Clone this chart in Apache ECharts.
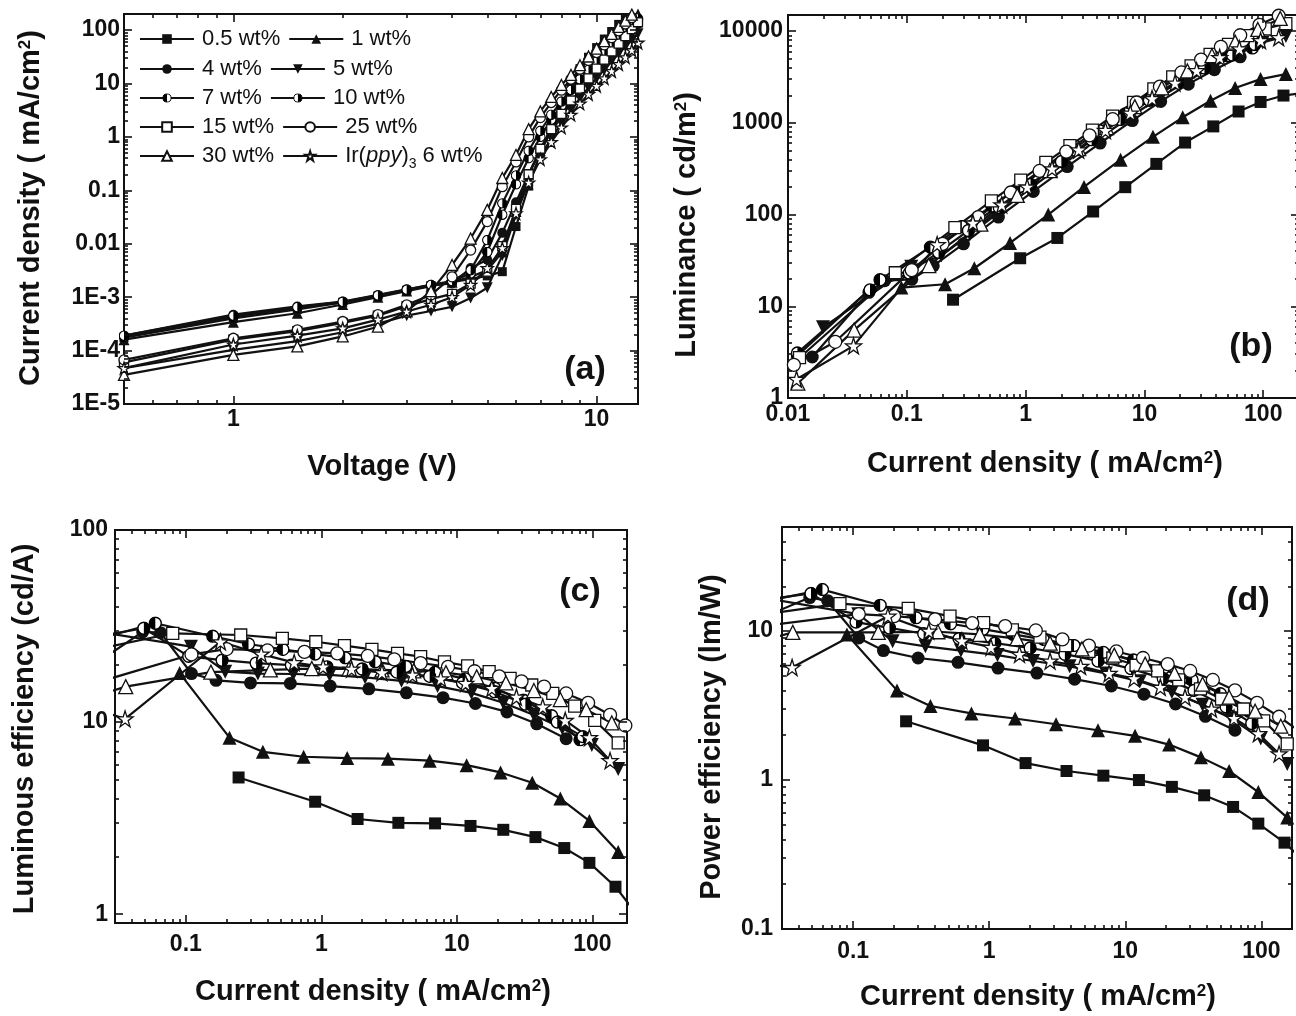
<!DOCTYPE html>
<html><head><meta charset="utf-8">
<script src="https://cdn.jsdelivr.net/npm/echarts@6/dist/echarts.min.js"></script>
<style>html,body{margin:0;padding:0;background:#fff}#chart{width:1296px;height:1016px}</style>
</head><body><div id="chart"></div>
<script>
// ---------------- DATA ----------------
const seriesNames = ['0.5 wt%','1 wt%','4 wt%','5 wt%','7 wt%','10 wt%','15 wt%','25 wt%','30 wt%','Ir(ppy)3 6 wt%'];

// Panel (a): current density (mA/cm2) vs voltage (V)
const voltage = [0.5,1,1.5,2,2.5,3,3.5,4,4.5,5,5.5,6,6.5,7,7.5,8,8.5,9,9.5,10,10.5,11,11.5,12,12.5,13];
const jv05 = [1.75e-4,4.0e-4,5.9e-4,8.0e-4,1.05e-3,1.35e-3,1.65e-3,1.9e-3,2.2e-3,2.5e-3,3.0e-3,0.021,0.12,0.5,1.5,4,9.5,19,31,47,68,94,128,170,225];
const jv1  = [1.6e-4,3.4e-4,5.0e-4,7.3e-4,1.0e-3,1.3e-3,1.6e-3,1.9e-3,2.4e-3,3.2e-3,7e-3,0.04,0.2,0.55,1.3,2.8,5.4,9.5,16,25,38,56,80,110,150,200];
const jv4  = [1.9e-4,4.7e-4,6.7e-4,8.3e-4,1.1e-3,1.4e-3,1.7e-3,1.8e-3,3.5e-3,5e-3,0.016,0.06,0.2,0.55,1.25,2.4,4.3,7.2,11.5,17.5,26,37,52,72,98,130];
const jv5  = [4.7e-5,1.03e-4,1.5e-4,2.2e-4,3.2e-4,4.5e-4,5.5e-4,6.6e-4,9.6e-4,1.5e-3,6e-3,0.035,0.15,0.42,0.95,1.8,3.2,5.3,8.3,12.5,18,26,36,49,65,85];
const jv7  = [1.8e-4,4.3e-4,6.3e-4,8.0e-4,1.05e-3,1.35e-3,1.65e-3,1.95e-3,2.8e-3,7e-3,0.035,0.13,0.4,1.0,2.1,3.8,6.4,10.2,15.5,23,33,46,63,85,113,150];
const jv10 = [1.9e-4,4.5e-4,6.5e-4,8.2e-4,1.08e-3,1.38e-3,1.7e-3,2.0e-3,3.2e-3,0.0117,0.057,0.19,0.55,1.3,2.6,4.6,7.6,12,18,26,37,51,70,94,125,165];
const jv15 = [6.0e-5,1.6e-4,2.3e-4,3.3e-4,4.5e-4,6.8e-4,9.2e-4,1.15e-3,1.8e-3,3e-3,9e-3,0.045,0.2,0.6,1.4,2.7,4.8,8,12.5,19,28,40,56,77,104,140];
const jv25 = [6.7e-5,1.7e-4,2.45e-4,3.5e-4,4.7e-4,7.2e-4,1.1e-3,2.4e-3,7.6e-3,0.026,0.117,0.34,1.0,2.3,4.4,7.5,12,18.5,27,38,53,72,97,130,170,220];
const jv30 = [3.5e-5,8.3e-5,1.2e-4,1.84e-4,2.8e-4,5.4e-4,1.3e-3,4e-3,0.0125,0.043,0.17,0.46,1.4,3.0,5.6,9.4,14.5,22,32,45,62,85,115,150,195,250];
const jvIr = [4.7e-5,1.3e-4,1.9e-4,2.6e-4,3.8e-4,5.4e-4,7.2e-4,1.0e-3,1.7e-3,3.5e-3,8.3e-3,0.037,0.14,0.38,0.8,1.5,2.6,4.2,6.3,9,12.5,17,23,31,42,58];

// Panels (b)-(d): current density (mA/cm2), luminance (cd/m2), luminous eff. (cd/A), power eff. (lm/W)
const j05  = [0.245,0.9,1.85,3.7,6.9,12.6,22,38,62,95,148,230];
const lum05= [11.8,33.4,55.6,108,199,357,610,915,1330,1690,1985,2150];
const ce05 = [5.15,3.85,3.13,2.99,2.97,2.88,2.75,2.52,2.21,1.85,1.39,0.93];
const pe05 = [2.48,1.71,1.30,1.15,1.07,1.0,0.90,0.79,0.66,0.51,0.38,0.26];

const j1   = [0.09,0.21,0.37,0.74,1.55,3.1,6.3,11.8,21,36,58,95,155];
const lum1 = [16,17.4,26,49,100,200,397,704,1150,1740,2400,3000,3400];
const ce1  = [18,8.3,7.0,6.6,6.5,6.45,6.3,5.97,5.47,4.83,4.0,3.06,2.11];
const pe1  = [9.5,4.0,3.14,2.8,2.59,2.37,2.16,1.98,1.73,1.42,1.15,0.83,0.56];

const j4   = [0.016,0.048,0.065,0.11,0.167,0.3,0.59,1.16,2.24,4.24,7.9,13.7,23.4,38.8,64];
const lum4 = [2.8,14.2,19,19.7,27.6,48,94,179,334,602,1059,1713,2644,3802,5248];
const ce4  = [17.5,29.5,29.2,17.9,16.5,16,15.9,15.4,14.9,14.2,13.4,12.5,11.3,9.8,8.2];
const pe4  = [11,16.8,16,9.0,7.4,6.6,6.17,5.65,5.23,4.76,4.28,3.77,3.24,2.68,2.16];

const j5   = [0.0197,0.109,0.195,0.34,0.62,1.15,2.1,3.9,7.2,12.8,22,37,60,99,155];
const lum5 = [5.9,26.9,35.7,60.9,110,202,359,640,1109,1818,2772,4033,5580,7524,8835];
const ce5  = [30,24.7,18.3,17.9,17.8,17.6,17.1,16.4,15.4,14.2,12.6,10.9,9.3,7.6,5.7];
const pe5  = [17,13,8.55,7.9,7.4,6.9,6.3,5.8,5.2,4.6,3.9,3.2,2.6,1.9,1.28];

const j7   = [0.012,0.0595,0.158,0.29,0.52,0.9,1.5,2.5,4.2,6.9,11.5,19,31,50,81];
const lum7 = [2.9,19.5,44.2,74,124,203,324,515,819,1256,1932,2850,4030,5400,6561];
const ce7  = [24,32.7,28,25.5,23.9,22.6,21.6,20.6,19.5,18.2,16.8,15.0,13.0,10.8,8.1];
const pe7  = [14,19,14.9,12.3,11.2,10.3,9.5,8.8,8.0,7.2,6.4,5.6,4.7,3.8,2.9];

const j10  = [0.012,0.049,0.105,0.185,0.33,0.6,1.1,2.0,3.6,6.3,11,19,32,55,85];
const lum10= [3.1,15.1,23.1,38.9,67,119,213,378,655,1090,1760,2736,3968,5500,7140];
const ce10 = [26,30.8,22,21,20.3,19.8,19.4,18.9,18.2,17.3,16,14.4,12.4,10,8.4];
const pe10 = [15,17.9,11.5,10.5,9.6,8.9,8.3,7.7,7.0,6.3,5.6,4.8,4.0,3.1,2.4];

const j15  = [0.0125,0.08,0.254,0.515,0.91,1.48,2.36,3.65,5.4,8.1,12,17.3,24.7,35.7,51,74,104,155];
const lum15= [2.75,23.2,72,141,238,370,564,832,1183,1669,2352,3166,4174,5569,7191,8954,10608,12090];
const ce15 = [22,29,28.4,27.3,26.2,25,23.9,22.8,21.9,20.6,19.6,18.3,16.9,15.6,14.1,12.1,10.2,7.8];
const pe15 = [12,15.3,14.2,12.6,11.4,10.2,9.1,8.0,7.3,6.6,5.9,5.4,4.7,4.1,3.5,3.0,2.5,1.75];

const j25  = [0.0112,0.025,0.11,0.2,0.4,0.75,1.31,2.2,3.45,5.4,8.6,13.5,20.5,30,44,64,93,135,175];
const lum25= [2.3,4.1,24.8,48,94,174,299,486,731,1096,1668,2484,3547,4890,6732,9024,11718,14715,16800];
const ce25 = [20.5,16.5,22.5,24,23.6,23.2,22.8,22.1,21.2,20.3,19.4,18.4,17.3,16.3,15.3,14.1,12.6,10.9,9.6];
const pe25 = [14,11,13,12.6,12,11.3,10.8,10.1,8.8,8.0,7.3,6.6,6.0,5.4,4.7,4.0,3.3,2.66,2.25];

const j30  = [0.0121,0.036,0.153,0.42,0.85,1.6,2.8,4.8,8.3,14,23,37,58,90,139];
const lum30= [1.45,5.5,27.8,78.5,162,302,524,888,1502,2408,3680,5402,7598,10440,13761];
const ce30 = [12,15.3,18.2,18.7,19,18.9,18.7,18.5,18.1,17.2,16,14.6,13.1,11.6,9.9];
const pe30 = [7.5,9.8,9.8,9.9,9.5,8.9,8.3,7.6,6.9,6.0,5.2,4.4,3.6,2.9,2.3];

const jIr  = [0.0118,0.0356,0.18,0.36,0.63,1.03,1.67,2.8,4.7,7.6,11.6,18.1,27.5,43,63,95,135];
const lumIr= [1.6,3.7,47,81,128,200,316,507,827,1277,1844,2715,3712,5160,6426,7885,8505];
const ceIr = [13.5,10.4,26.2,22.6,20.4,19.4,18.9,18.1,17.6,16.8,15.9,15,13.5,12,10.2,8.3,6.3];
const peIr = [6.5,5.7,12.6,10,8.6,7.8,7.0,6.3,5.8,5.2,4.8,4.2,3.6,3.0,2.6,2.05,1.5];

// Tick values / labels
const aXMajor = [1,10];                                  const aXLabels = ['1','10'];
const aYMajor = [1e-5,1e-4,1e-3,0.01,0.1,1,10,100];      const aYLabels = ['1E-5','1E-4','1E-3','0.01','0.1','1','10','100'];
const bXMajor = [0.01,0.1,1,10,100];                     const bXLabels = ['0.01','0.1','1','10','100'];
const bYMajor = [1,10,100,1000,10000];                   const bYLabels = ['1','10','100','1000','10000'];
const cXMajor = [0.1,1,10,100];                          const cXLabels = ['0.1','1','10','100'];
const cYMajor = [1,10,100];                              const cYLabels = ['1','10','100'];
const dXMajor = [0.1,1,10,100];                          const dXLabels = ['0.1','1','10','100'];
const dYMajor = [0.1,1,10];                              const dYLabels = ['0.1','1','10'];
const minorSteps = [2,3,4,5,6,7,8,9];

// ---------------- BUILD ----------------
const FONT = '"Liberation Sans", Arial, Helvetica, sans-serif';
const INK = '#111';
const JV  = [jv05,jv1,jv4,jv5,jv7,jv10,jv15,jv25,jv30,jvIr];
const JJ  = [j05,j1,j4,j5,j7,j10,j15,j25,j30,jIr];
const LUM = [lum05,lum1,lum4,lum5,lum7,lum10,lum15,lum25,lum30,lumIr];
const CE  = [ce05,ce1,ce4,ce5,ce7,ce10,ce15,ce25,ce30,ceIr];
const PE  = [pe05,pe1,pe4,pe5,pe7,pe10,pe15,pe25,pe30,peIr];

function halfSvg(leftFilled){
  const d = leftFilled ? 'M20 3 A17 17 0 0 0 20 37 Z' : 'M20 3 A17 17 0 0 1 20 37 Z';
  const s = '<svg xmlns="http://www.w3.org/2000/svg" width="40" height="40" viewBox="0 0 40 40">'+
    '<circle cx="20" cy="20" r="17" fill="white" stroke="black" stroke-width="4"/>'+
    '<path d="'+d+'" fill="black"/></svg>';
  return 'image://data:image/svg+xml;charset=utf-8,' + encodeURIComponent(s);
}
const STAR = 'path://M50,2 L61,36 L97,36 L68,57 L79,92 L50,71 L21,92 L32,57 L3,36 L39,36 Z';
const TRI_DOWN = 'path://M0,0 L20,0 L10,18 Z';
const SYM = [
  {s:'rect', fill:INK, k:0.9},
  {s:'triangle', fill:INK, k:1.05},
  {s:'circle', fill:INK, k:1},
  {s:TRI_DOWN, fill:INK, k:1.05},
  {s:halfSvg(true), fill:INK, k:1.05},
  {s:halfSvg(false), fill:INK, k:1.05},
  {s:'rect', fill:'#fff', k:0.9, open:true},
  {s:'circle', fill:'#fff', k:1, open:true},
  {s:'triangle', fill:'#fff', k:1.1, open:true},
  {s:STAR, fill:'#fff', k:1.2, open:true}
];

function minorValues(min, max){
  const out = [];
  for (let k = Math.floor(Math.log10(min)) - 1; k <= Math.ceil(Math.log10(max)); k++) {
    for (const m of minorSteps) {
      const v = +(m * Math.pow(10, k)).toPrecision(8);
      if (v > min * 1.0001 && v < max * 0.9999) out.push(v);
    }
  }
  return out;
}
function labelFor(v, majors, labels){
  let best = 0, d = 1e9;
  majors.forEach((m,i)=>{ const dd = Math.abs(Math.log10(v) - Math.log10(m)); if (dd < d){ d = dd; best = i; } });
  return labels[best];
}
function makeAxes(dim, gi, min, max, majors, labels, margin){
  const minors = minorValues(min, max);
  const isX = dim === 'x';
  const mk = (pos, vals, len, lab) => ({
    type:'log', logBase:10, gridIndex:gi, min:min, max:max, position:pos,
    axisLine:{show:false}, splitLine:{show:false}, minorTick:{show:false}, minorSplitLine:{show:false},
    axisTick:{show:true, inside:true, length:len, customValues:vals, lineStyle:{color:INK, width:1.6}},
    axisLabel: lab ? {show:true, customValues:majors, margin:margin, color:INK, fontSize:23, fontWeight:'bold', fontFamily:FONT,
                      formatter: v => labelFor(v, majors, labels)} : {show:false},
    silent:true, z:5
  });
  const pa = isX ? 'bottom' : 'left', pb = isX ? 'top' : 'right';
  return [mk(pa, majors, 8, true), mk(pa, minors, 4, false), mk(pb, majors, 8, false), mk(pb, minors, 4, false)];
}

const grids = [
  {left:124, top:14,  width:514, height:390},
  {left:788, top:15,  width:511, height:383},
  {left:115, top:530, width:512, height:393},
  {left:782, top:527, width:510, height:402}
].map(g => Object.assign(g, {show:true, borderColor:INK, borderWidth:2, backgroundColor:'transparent', containLabel:false, outerBoundsMode:'none'}));

const xAxes = [].concat(
  makeAxes('x',0,0.5,13,aXMajor,aXLabels,4),
  makeAxes('x',1,0.01,200,bXMajor,bXLabels,5),
  makeAxes('x',2,0.03,180,cXMajor,cXLabels,10),
  makeAxes('x',3,0.03,168,dXMajor,dXLabels,11)
);
const yAxes = [].concat(
  makeAxes('y',0,1e-5,200,aYMajor,aYLabels,4),
  makeAxes('y',1,1,15000,bYMajor,bYLabels,5),
  makeAxes('y',2,0.9,100,cYMajor,cYLabels,7),
  makeAxes('y',3,0.1,50,dYMajor,dYLabels,9)
);

function mkSeries(i, gi, xs, ys, size){
  const sy = SYM[i];
  return {
    type:'line', name:seriesNames[i], xAxisIndex:gi*4, yAxisIndex:gi*4,
    data: ys.map((y,k)=>[xs[k], y]),
    symbol: sy.s, symbolSize: Math.round(size*sy.k),
    itemStyle:{color:sy.fill, borderColor:INK, borderWidth: sy.open ? 1.3 : 0},
    lineStyle:{color:INK, width:2.2},
    emphasis:{disabled:true}, animation:false, clip:true, z:3
  };
}
const series = [];
seriesNames.forEach((n,i)=>series.push(mkSeries(i,0,voltage,JV[i],10)));
seriesNames.forEach((n,i)=>series.push(mkSeries(i,1,JJ[i],LUM[i],13)));
seriesNames.forEach((n,i)=>series.push(mkSeries(i,2,JJ[i],CE[i],13)));
seriesNames.forEach((n,i)=>series.push(mkSeries(i,3,JJ[i],PE[i],13)));

// legend: 5 rows of 2
const legendRows = [[0,1],[2,3],[4,5],[6,7],[8,9]];
const legendCenters = [40,70,99,128,157];
const legends = legendRows.map((r,i)=>({
  data: r.map(k=>seriesNames[k]), left:139, top:legendCenters[i]-12, orient:'horizontal', padding:0,
  itemWidth:54, itemHeight:12, itemGap:8, selectedMode:false,
  textStyle:{fontSize:22, fontFamily:FONT, color:INK, padding:[0,0,0,3],
    rich:{ n:{fontSize:22, fontFamily:FONT, color:INK},
           i:{fontSize:22, fontFamily:FONT, fontStyle:'italic', color:INK},
           s:{fontSize:14, fontFamily:FONT, color:INK, verticalAlign:'bottom', lineHeight:30} } },
  formatter: name => name === seriesNames[9] ? '{n|Ir(}{i|ppy}{n|)}{s|3}{n| 6 wt%}' : name
}));

// titles
const titleRich = {
  t:{fontSize:29, fontWeight:'bold', fontFamily:FONT, fill:INK, color:INK},
  s:{fontSize:17, fontWeight:'bold', fontFamily:FONT, fill:INK, color:INK, verticalAlign:'top'}
};
function ttl(x, y, text, rotate){
  return {type:'text', x:x, y:y, rotation: rotate ? Math.PI/2 : 0, silent:true, z:10,
    style:{text:text, rich:titleRich, fill:INK, font:'bold 29px '+FONT,
      align:'center', verticalAlign:'middle', textAlign:'center', textVerticalAlign:'middle'}};
}
function tag(x, y, text){
  return {type:'text', x:x, y:y, silent:true, z:10,
    style:{text:text, fill:INK, font:'bold 34px '+FONT, align:'center', verticalAlign:'middle', textAlign:'center', textVerticalAlign:'middle'}};
}
const graphics = [
  ttl(31, 208, '{t|Current density ( mA/cm}{s|2}{t|)}', true),
  ttl(382, 467, '{t|Voltage (V)}', false),
  ttl(687, 225, '{t|Luminance ( cd/m}{s|2}{t|)}', true),
  ttl(1045, 464, '{t|Current density ( mA/cm}{s|2}{t|)}', false),
  ttl(25, 729, '{t|Luminous efficiency (cd/A)}', true),
  ttl(373, 992, '{t|Current density ( mA/cm}{s|2}{t|)}', false),
  ttl(712, 737, '{t|Power efficiency (lm/W)}', true),
  ttl(1038, 997, '{t|Current density ( mA/cm}{s|2}{t|)}', false),
  tag(585, 370, '(a)'), tag(1251, 347, '(b)'), tag(580, 592, '(c)'), tag(1248, 601, '(d)')
];

const chart = echarts.init(document.getElementById('chart'), null, {renderer:'canvas'});
chart.setOption({
  backgroundColor:'#fff', animation:false,
  grid: grids, xAxis: xAxes, yAxis: yAxes, series: series, legend: legends, graphic: graphics,
  textStyle:{fontFamily:FONT}
});
</script></body></html>
